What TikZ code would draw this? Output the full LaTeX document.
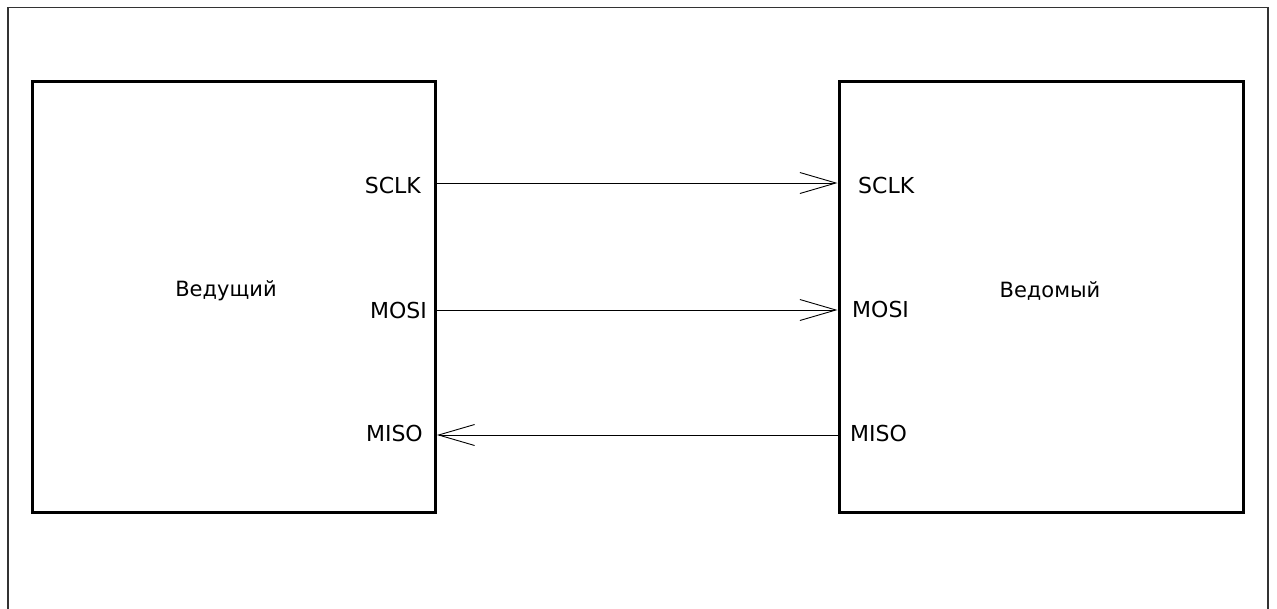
\documentclass[tikz,border=0pt]{standalone}
\usepackage{fontspec}
\setmainfont{DejaVu Sans}
\usetikzlibrary{arrows.meta}
\begin{document}
\begin{tikzpicture}[x=1pt,y=-1pt,
  blk/.style={draw=black,line width=3pt},
  frame/.style={draw=black!80,line width=1.3pt},
  sig/.style={draw=black,line width=0.9pt,-{Straight Barb[length=36pt,width=21pt,line width=0.9pt]}},
  lbl/.style={font=\fontsize{22}{26}\selectfont,inner sep=0pt},
  ttl/.style={font=\fontsize{21}{25}\selectfont,inner sep=0pt}]
\useasboundingbox (0,0) rectangle (1277,608);
\draw[frame] (8,620) -- (8,7.5) -- (1268,7.5) -- (1268,620);
\node[blk,minimum width=403pt,minimum height=431pt,inner sep=0pt] (master) at (234,296.5) {};
\node[blk,minimum width=404pt,minimum height=431pt,inner sep=0pt] (slave) at (1041,296.5) {};
\node[ttl] (mt) at (226,291) {Ведущий};
\node[ttl] (st) at (1050,291) {Ведомый};
\coordinate (m1) at (master.east |- 0,183);
\coordinate (m2) at (master.east |- 0,310);
\coordinate (m3) at (master.east |- 0,435);
\coordinate (s1) at (slave.west |- 0,183);
\coordinate (s2) at (slave.west |- 0,310);
\coordinate (s3) at (slave.west |- 0,435);
\draw[sig] (m1) -- (s1);
\draw[sig] (m2) -- (s2);
\draw[sig] (s3) -- (m3);
\node[lbl,anchor=east] (ml1) at (421,185) {SCLK};
\node[lbl,anchor=east] (ml2) at (427,310) {MOSI};
\node[lbl,anchor=east] (ml3) at (423,433) {MISO};
\node[lbl,anchor=west] (sl1) at (858,185) {SCLK};
\node[lbl,anchor=west] (sl2) at (852,309) {MOSI};
\node[lbl,anchor=west] (sl3) at (850,433) {MISO};
\end{tikzpicture}
\end{document}
